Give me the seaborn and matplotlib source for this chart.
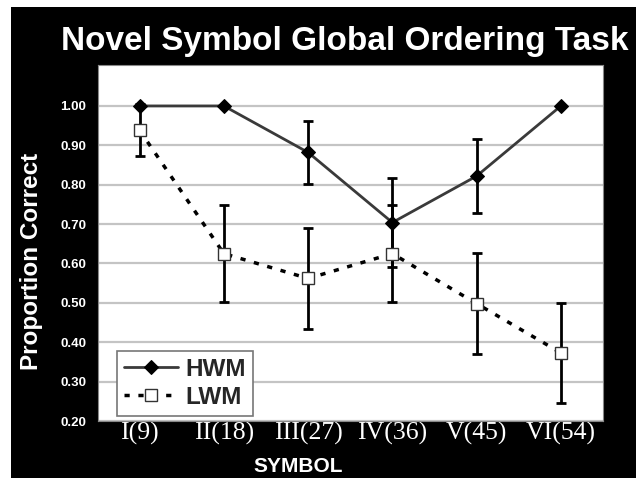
import numpy as np
import pandas as pd
import seaborn as sns
import matplotlib.pyplot as plt
from matplotlib.patches import Rectangle

# data
symbols = ["I(9)", "II(18)", "III(27)", "IV(36)", "V(45)", "VI(54)"]
hwm_mean = [1.00, 1.00, 0.882, 0.704, 0.822, 1.00]
hwm_err = [0.0, 0.0, 0.081, 0.114, 0.095, 0.0]
lwm_mean = [0.938, 0.625, 0.562, 0.625, 0.498, 0.373]
lwm_err = [0.066, 0.123, 0.128, 0.123, 0.129, 0.127]
y_ticks = [0.2, 0.3, 0.4, 0.5, 0.6, 0.7, 0.8, 0.9, 1.0]

df = pd.DataFrame({
    "pos": list(range(len(symbols))) * 2,
    "mean": hwm_mean + lwm_mean,
    "err": hwm_err + lwm_err,
    "group": ["HWM"] * len(symbols) + ["LWM"] * len(symbols),
})

sns.set_style("white")
plt.rcParams["font.family"] = ["Liberation Sans", "DejaVu Sans"]

fig = plt.figure(figsize=(6.36, 4.78), dpi=100, facecolor="white")
# black backdrop leaving a thin white strip at top and left
fig.patches.append(Rectangle((11 / 636, 0), 1, 1 - 7 / 478, transform=fig.transFigure,
                             facecolor="black", edgecolor="none", zorder=-10))
ax = fig.add_axes([97.5 / 636, (478 - 421) / 478, (603 - 97.5) / 636, (421 - 65) / 478])
ax.set_facecolor("white")

# error bars
for grp in ["HWM", "LWM"]:
    d = df[df["group"] == grp]
    d = d[d["err"] > 0]
    ax.errorbar(d["pos"], d["mean"], yerr=d["err"], fmt="none", ecolor="black",
                elinewidth=2, capsize=3.3, capthick=2, zorder=3)

sns.lineplot(data=df[df["group"] == "HWM"], x="pos", y="mean", ax=ax, color="#3a3a3a",
             lw=2, marker="D", markersize=7.5, markerfacecolor="black",
             markeredgecolor="black", label="HWM", zorder=4)
sns.lineplot(data=df[df["group"] == "LWM"], x="pos", y="mean", ax=ax, color="black",
             lw=2.5, linestyle=(0, (1.5, 2.5)), marker="s", markersize=8.5,
             markerfacecolor="white", markeredgecolor="#333333", markeredgewidth=1,
             label="LWM", zorder=4)

ax.set_xlim(-0.5, 5.5)
ax.set_ylim(0.2, 1.104)
ax.set_yticks(y_ticks)
ax.set_yticklabels([f"{v:.2f}" for v in y_ticks], color="white", fontsize=9.5,
                   fontweight="bold")
ax.set_xticks(range(len(symbols)))
ax.set_xticklabels(symbols, color="white", fontsize=18.5, family="Liberation Serif")
ax.tick_params(axis="y", length=0, pad=8)
ax.tick_params(axis="x", length=0, pad=1)
ax.yaxis.grid(True, color="#c4c4c4", lw=1.6)
ax.set_axisbelow(True)
for s in ax.spines.values():
    s.set_color("#888888")
    s.set_linewidth(0.8)

ax.set_xlabel("")
ax.set_ylabel("")
fig.text(32 / 636, 1 - 261 / 478, "Proportion Correct", rotation=90, color="white",
         fontsize=17.5, fontweight="bold", ha="center", va="center")
fig.text(298 / 636, 1 - 466 / 478, "SYMBOL", color="white", fontsize=15,
         fontweight="bold", ha="center", va="center")
fig.text(345 / 636, 1 - 50 / 478, "Novel Symbol Global Ordering Task", color="white",
         fontsize=24, fontweight="bold", ha="center", va="baseline")

leg = ax.legend(loc="lower left", bbox_to_anchor=(19.5 / 505.5, 5 / 356), frameon=True,
                fancybox=False, edgecolor="#777777", framealpha=1,
                prop={"weight": "bold", "size": 17.5}, handlelength=2.2,
                handletextpad=0.3, borderpad=0.3, labelspacing=0.2, borderaxespad=0)
leg.get_frame().set_linewidth(1.2)

fig.savefig("out.png", dpi=100, facecolor=fig.get_facecolor())
